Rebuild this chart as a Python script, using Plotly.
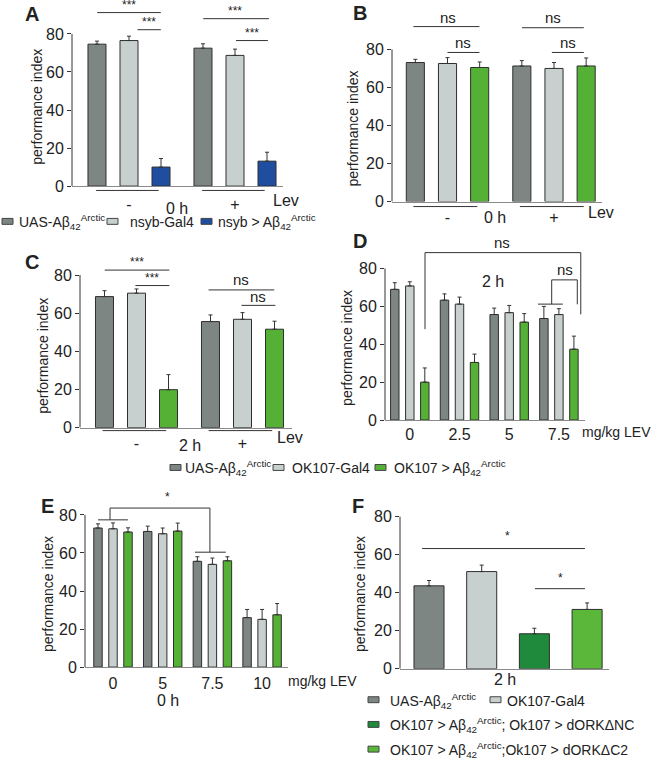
import plotly.graph_objects as go

W, H = 654, 769
FONT = "Liberation Sans, Arial, sans-serif"
INK = "#222222"

# ---- data ----
lev = ["-", "+"]
a_uas = [74.6, 72.5]
a_uas_err = [1.6, 2.3]
a_gal4 = [76.5, 68.7]
a_gal4_err = [2.3, 3.3]
a_nsyb = [10.0, 13.1]
a_nsyb_err = [4.5, 4.7]

b_uas = [73.1, 71.3]
b_uas_err = [1.7, 2.8]
b_gal4 = [72.6, 70.0]
b_gal4_err = [3.1, 3.1]
b_ok = [70.5, 71.3]
b_ok_err = [2.9, 4.2]

c_uas = [68.7, 55.6]
c_uas_err = [3.1, 3.5]
c_gal4 = [70.5, 56.8]
c_gal4_err = [2.2, 3.5]
c_ok = [19.9, 51.6]
c_ok_err = [7.9, 4.2]

d_dose = ["0", "2.5", "5", "7.5"]
d_uas = [69.0, 63.3, 55.7, 53.6]
d_uas_err = [3.5, 3.3, 3.4, 6.4]
d_gal4 = [70.8, 61.2, 56.7, 55.7]
d_gal4_err = [2.2, 3.7, 3.8, 3.1]
d_ok = [20.0, 30.4, 51.7, 37.4]
d_ok_err = [7.5, 4.4, 4.5, 6.9]

e_dose = ["0", "5", "7.5", "10"]
e_uas = [73.1, 71.3, 55.6, 26.0]
e_uas_err = [2.2, 2.8, 2.4, 4.3]
e_gal4 = [72.7, 70.1, 54.0, 25.1]
e_gal4_err = [3.1, 3.0, 3.3, 5.2]
e_ok = [71.0, 71.5, 55.9, 27.5]
e_ok_err = [2.2, 4.2, 2.1, 5.9]

f_groups = ["UAS-Abeta", "OK107-Gal4", "dORK-NC", "dORK-C2"]
f_vals = [43.6, 51.1, 18.4, 31.2]
f_err = [2.8, 3.4, 2.9, 3.4]

AB = "Aβ<sub>42</sub><sup>Arctic</sup>"
name_uas = "UAS-" + AB
legend_a = [name_uas, "nsyb-Gal4", "nsyb > " + AB]
legend_mid = [name_uas, "OK107-Gal4", "OK107 > " + AB]
legend_f = [name_uas, "OK107-Gal4",
            "OK107 > " + AB + "; Ok107 > dORKΔNC",
            "OK107 > " + AB + ";Ok107 > dORKΔC2"]

C_DARK = "#7e8683"
C_LIGHT = "#c7d0cf"
C_BLUE = "#1f4ea1"
C_GREEN = "#55b135"
C_FDARK = "#1f8a3b"
C_FLIGHT = "#5bb73a"
OUTLINE = "#2e2e2e"


def fx(p):
    return p / W


def fy(p):
    return 1 - p / H


fig = go.Figure()
shapes = []
annots = []


def panel(n, x0, x1, top, base, p80, c0, step, cats, ticklabels=True,
          standoff=1):
    """set up axes n so that pixels line up with the reference"""
    xa = "xaxis" if n == 1 else "xaxis%d" % n
    ya = "yaxis" if n == 1 else "yaxis%d" % n
    xid = "x" if n == 1 else "x%d" % n
    yid = "y" if n == 1 else "y%d" % n
    ytop = 80 * (base - top) / (base - p80)
    fig.update_layout(**{
        xa: dict(domain=[fx(x0), fx(x1)], anchor=yid, type="category",
                 categoryorder="array", categoryarray=cats,
                 range=[(x0 - c0) / step, (x1 - c0) / step],
                 showline=True, linecolor="#8a8a8a", linewidth=1,
                 ticks="", showgrid=False, zeroline=False,
                 showticklabels=ticklabels, tickfont=dict(size=16, color=INK),
                 ticklabelstandoff=standoff),
        ya: dict(domain=[fy(base), fy(top)], anchor=xid, range=[0, ytop],
                 tickvals=[0, 20, 40, 60, 80], ticks="outside", ticklen=4,
                 tickcolor="#333", showline=False, showgrid=False,
                 zeroline=False, tickfont=dict(size=16, color=INK)),
    })
    shapes.append(dict(type="line", xref=xid + " domain", yref=yid,
                       x0=0, x1=0, y0=0, y1=80,
                       line=dict(color="#333", width=1)))
    return xid, yid


def bars(xid, yid, cats, vals, err, color, width=None):
    fig.add_trace(go.Bar(
        x=cats, y=vals, xaxis=xid, yaxis=yid, width=width,
        marker=dict(color=color, line=dict(color=OUTLINE, width=1)),
        error_y=dict(type="data", array=err, arrayminus=[0] * len(err),
                     symmetric=False, color="#333", thickness=1, width=2),
        showlegend=False))


def line(xid, yid, x0, y0, x1, y1):
    shapes.append(dict(type="line", xref=xid, yref=yid, x0=x0, x1=x1,
                       y0=y0, y1=y1, line=dict(color="#333", width=1)))


def text(xid, yid, x, y, s, size=14, xanchor="center", **kw):
    annots.append(dict(xref=xid, yref=yid, x=x, y=y, text=s, showarrow=False,
                       xanchor=xanchor, yanchor="middle",
                       font=dict(size=size, color=INK, family=FONT), **kw))


def ptext(x, y, s, size=14, xanchor="center", **kw):
    text("paper", "paper", fx(x), fy(y), s, size, xanchor=xanchor, **kw)


def ytitle(x, y):
    ptext(x, y, "performance index", 14, textangle=-90)


def underline(xid, x0, x1, y):
    shapes.append(dict(type="line", xref=xid, yref="paper", x0=x0, x1=x1,
                       y0=fy(y), y1=fy(y), line=dict(color="#333", width=1)))


def legend_item(x, y, color, label, xt):
    shapes.append(dict(type="rect", xref="paper", yref="paper",
                       x0=fx(x), x1=fx(x + 11), y0=fy(y + 3), y1=fy(y - 3),
                       fillcolor=color, line=dict(color="#444", width=1)))
    ptext(xt, y + 1, label, 14, xanchor="left")


# ---- A ----
xa_, ya_ = panel(1, 72, 283, 0, 188.3, 34.3, 129, 106, lev, standoff=4)
bars(xa_, ya_, lev, a_uas, a_uas_err, C_DARK)
bars(xa_, ya_, lev, a_gal4, a_gal4_err, C_LIGHT)
bars(xa_, ya_, lev, a_nsyb, a_nsyb_err, C_BLUE)
line(xa_, ya_, -0.30, 91.2, 0.30, 91.2)
text(xa_, ya_, 0, 95.0, "***", 12)
line(xa_, ya_, 0.08, 82.2, 0.30, 82.2)
text(xa_, ya_, 0.19, 86.2, "***", 12)
line(xa_, ya_, 0.70, 88.0, 1.32, 88.0)
text(xa_, ya_, 1.0, 92.0, "***", 12)
line(xa_, ya_, 1.01, 76.5, 1.31, 76.5)
text(xa_, ya_, 1.16, 80.5, "***", 12)
underline(xa_, -0.31, 0.28, 192.7)
underline(xa_, 0.69, 1.28, 192.7)
ptext(177, 211, "0 h", 16)
ptext(286, 203, "Lev", 16)
ytitle(37, 108)
ptext(32, 14, "<b>A</b>", 20)

# ---- B ----
xb, yb = panel(2, 392, 602, 0, 204, 50, 447.5, 106.5, lev)
bars(xb, yb, lev, b_uas, b_uas_err, C_DARK)
bars(xb, yb, lev, b_gal4, b_gal4_err, C_LIGHT)
bars(xb, yb, lev, b_ok, b_ok_err, C_GREEN)
line(xb, yb, -0.32, 92.0, 0.30, 92.0)
text(xb, yb, 0, 97.0, "ns", 15)
line(xb, yb, 0.0, 78.4, 0.30, 78.4)
text(xb, yb, 0.15, 83.4, "ns", 15)
line(xb, yb, 0.70, 91.4, 1.28, 91.4)
text(xb, yb, 0.99, 97.0, "ns", 15)
line(xb, yb, 0.98, 78.4, 1.28, 78.4)
text(xb, yb, 1.13, 83.4, "ns", 15)
underline(xb, -0.32, 0.28, 209)
underline(xb, 0.68, 1.28, 209)
ptext(495, 220, "0 h", 16)
ptext(601, 215, "Lev", 16)
ytitle(353, 130)
ptext(360, 13, "<b>B</b>", 20)

# ---- C ----
xc, yc = panel(3, 80, 292, 245, 432.7, 278.3, 136.5, 106, lev)
bars(xc, yc, lev, c_uas, c_uas_err, C_DARK)
bars(xc, yc, lev, c_gal4, c_gal4_err, C_LIGHT)
bars(xc, yc, lev, c_ok, c_ok_err, C_GREEN)
line(xc, yc, -0.30, 82.6, 0.31, 82.6)
text(xc, yc, 0, 87.0, "***", 12)
line(xc, yc, -0.01, 74.5, 0.31, 74.5)
text(xc, yc, 0.15, 78.5, "***", 12)
line(xc, yc, 0.68, 72.2, 1.30, 72.2)
text(xc, yc, 0.99, 77.5, "ns", 15)
line(xc, yc, 0.99, 64.1, 1.31, 64.1)
text(xc, yc, 1.15, 69.0, "ns", 15)
underline(xc, -0.32, 0.28, 435.7)
underline(xc, 0.68, 1.28, 435.7)
ptext(190, 451, "2 h", 16)
ptext(290, 443, "Lev", 16)
ytitle(43, 360)
ptext(32, 265, "<b>C</b>", 20)

# ---- D ----
xd, yd = panel(4, 385, 585, 235, 425, 271.7, 409.8, 49.7, d_dose, standoff=0)
bars(xd, yd, d_dose, d_uas, d_uas_err, C_DARK)
bars(xd, yd, d_dose, d_gal4, d_gal4_err, C_LIGHT)
bars(xd, yd, d_dose, d_ok, d_ok_err, C_GREEN)
line(xd, yd, 0.306, 48.0, 0.306, 88.4)
line(xd, yd, 0.306, 88.4, 3.44, 88.4)
line(xd, yd, 3.44, 88.4, 3.44, 55.8)
text(xd, yd, 1.85, 93.5, "ns", 15)
line(xd, yd, 2.58, 61.2, 3.08, 61.2)
line(xd, yd, 2.855, 61.2, 2.855, 74.0)
line(xd, yd, 2.855, 74.0, 3.37, 74.0)
line(xd, yd, 3.37, 74.0, 3.37, 61.1)
text(xd, yd, 3.12, 79.5, "ns", 15)
text(xd, yd, 1.67, 73.0, "2 h", 16)
ptext(616, 437, "mg/kg LEV", 14)
ytitle(347, 352)
ptext(360, 244, "<b>D</b>", 20)

# ---- E ----
xe, ye = panel(5, 85, 288, 490, 675, 521, 113, 49.7, e_dose, standoff=2)
bars(xe, ye, e_dose, e_uas, e_uas_err, C_DARK)
bars(xe, ye, e_dose, e_gal4, e_gal4_err, C_LIGHT)
bars(xe, ye, e_dose, e_ok, e_ok_err, C_GREEN)
line(xe, ye, -0.06, 83.6, 1.95, 83.6)
line(xe, ye, -0.06, 83.6, -0.06, 77.4)
line(xe, ye, -0.30, 77.4, 0.30, 77.4)
line(xe, ye, 1.95, 83.6, 1.95, 60.4)
line(xe, ye, 1.65, 60.4, 2.27, 60.4)
text(xe, ye, 1.09, 89.5, "*", 12)
ptext(286, 689, "mg/kg LEV", 14, xanchor="left")
ptext(168, 709, "0 h", 16)
ytitle(48, 601)
ptext(47, 512, "<b>E</b>", 20)

# ---- F ----
xf, yf = panel(6, 400, 609, 495, 676.7, 522.7, 429, 52.7, f_groups,
               ticklabels=False)
bars(xf, yf, f_groups, f_vals, f_err, [C_DARK, C_LIGHT, C_FDARK, C_FLIGHT],
     width=0.57)
line(xf, yf, -0.13, 63.2, 2.96, 63.2)
text(xf, yf, 1.48, 70.0, "*", 12)
line(xf, yf, 2.01, 42.1, 2.96, 42.1)
text(xf, yf, 2.5, 47.5, "*", 12)
ptext(505, 688, "2 h", 16)
ytitle(360, 601)
ptext(358, 512, "<b>F</b>", 20)

# ---- legends ----
for (xr, xt), col, lab in zip([(2, 17), (107, 128), (201, 216)],
                              [C_DARK, C_LIGHT, C_BLUE], legend_a):
    legend_item(xr, 224, col, lab, xt)
for (xr, xt), col, lab in zip([(170, 183), (273, 290), (375, 392)],
                              [C_DARK, C_LIGHT, C_GREEN], legend_mid):
    legend_item(xr, 473, col, lab, xt)
for (xr, y, xt), col, lab in zip([(368, 708, 388), (490, 708, 505),
                                  (368, 733, 388), (368, 758, 388)],
                                 [C_DARK, C_LIGHT, C_FDARK, C_FLIGHT],
                                 legend_f):
    legend_item(xr, y, col, lab, xt)

fig.update_layout(
    width=W, height=H,
    margin=dict(l=0, r=0, t=0, b=0),
    paper_bgcolor="white", plot_bgcolor="white",
    barmode="group", bargap=0.094, bargroupgap=0.4375,
    font=dict(family=FONT, color=INK),
    shapes=shapes, annotations=annots,
)

# the page's default body margin would push the figure 8px right and down
fig.write_html("out.html", config={"displayModeBar": False},
               post_script="document.body.style.margin='0';")
